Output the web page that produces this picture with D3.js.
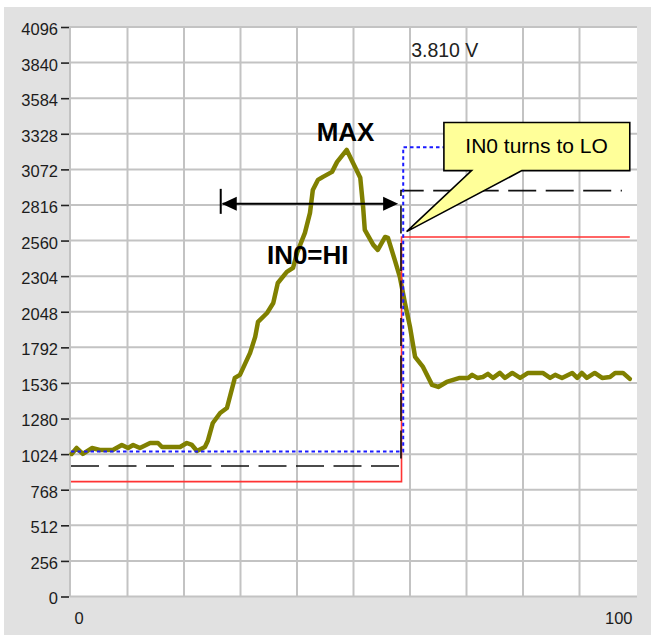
<!DOCTYPE html>
<html><head><meta charset="utf-8">
<script src="https://cdn.jsdelivr.net/npm/d3@7"></script>
<style>
html,body{margin:0;padding:0;background:#fff;}
svg{display:block;font-family:"Liberation Sans",Arial,sans-serif;}
</style></head>
<body><svg id="c" width="651" height="635"></svg>
<script>
// ---- data ----
const yTicks = [0,256,512,768,1024,1280,1536,1792,2048,2304,2560,2816,3072,3328,3584,3840,4096];
const xTicks = [0,100];
const xGrid = [10,20,30,40,50,60,70,80,90];

const signalX = [0.1,1.0,2.1,3.7,5.1,7.4,9.0,10.1,11.0,12.2,14.0,15.4,16.1,19.3,20.5,21.4,22.3,23.7,24.2,25.1,26.4,27.6,29.0,29.9,31.7,32.6,33.1,34.7,35.8,36.6,38.2,39.3,40.0,41.4,42.3,42.8,43.7,44.6,46.2,47.1,48.8,49.9,51.2,51.7,52.0,53.5,54.3,55.6,56.1,57.3,58.2,59.1,60.0,60.9,62.3,63.9,65.0,66.5,68.8,70.3,71.0,71.9,72.9,73.8,74.7,75.9,76.8,78.1,79.5,80.9,83.5,84.8,85.7,86.9,88.7,89.6,90.4,91.3,92.7,94.0,95.4,96.3,97.7,98.9];
const signalV = [1025,1068,1025,1068,1054,1054,1090,1068,1090,1068,1104,1104,1075,1075,1104,1090,1047,1075,1118,1248,1320,1356,1572,1594,1752,1867,1975,2039,2111,2255,2335,2363,2471,2615,2759,2924,2996,3018,3054,3126,3212,3119,3011,2802,2637,2529,2493,2586,2579,2421,2299,2112,1939,1723,1651,1522,1507,1543,1572,1572,1594,1572,1579,1601,1572,1608,1572,1608,1572,1608,1608,1572,1594,1572,1608,1572,1608,1572,1608,1572,1579,1608,1608,1565];

const redX = [0,58.5,58.5,98.9];
const redV = [826,826,2586,2586];
const blackX = [0,58.4,58.4,97.5];
const blackV = [939,939,2919,2919];
const blueX = [0,58.8,58.8,98.9];
const blueV = [1042,1042,3232,3232];

const valueLabel = "3.810 V";
const maxLabel = "MAX";
const hiLabel = "IN0=HI";
const calloutLabel = "IN0 turns to LO";

// ---- layout ----
const svg = d3.select("#c");
const x = d3.scaleLinear([0,100],[71,636]);
const y = d3.scaleLinear([0,4096],[596.5,27]);

svg.append("rect").attr("x",4).attr("y",7).attr("width",647).attr("height",628).attr("fill","#e1e1e1");
svg.append("rect").attr("x",70).attr("y",26).attr("width",567).attr("height",571).attr("fill","#fff");

const grid = svg.append("g").attr("stroke","#c3c3c3").attr("stroke-width",2);
grid.selectAll("line.h").data(yTicks).join("line").attr("class","h")
  .attr("x1",70).attr("x2",637).attr("y1",d=>y(d)).attr("y2",d=>y(d));
grid.selectAll("line.v").data(xGrid).join("line").attr("class","v")
  .attr("x1",d=>x(d)).attr("x2",d=>x(d)).attr("y1",26).attr("y2",597);
grid.append("line").attr("x1",70).attr("x2",70).attr("y1",26).attr("y2",597);

// y axis
const ya = svg.append("g").attr("transform","translate(69,0)")
  .call(d3.axisLeft(y).tickValues(yTicks).tickSize(8).tickPadding(3).tickFormat(d3.format("d")));
ya.select(".domain").remove();
ya.selectAll(".tick line").attr("stroke","#222").attr("stroke-width",1.6);
ya.selectAll(".tick text").attr("font-size",16.5).attr("fill","#1c1c1c")
  .attr("font-family","'Liberation Sans',Arial,sans-serif").attr("dy","0.45em");

// x axis
const xa = svg.append("g").attr("transform","translate(0,597)")
  .call(d3.axisBottom(x).tickValues(xTicks).tickSize(0).tickPadding(15).tickFormat(d3.format("d")));
xa.select(".domain").remove();
xa.selectAll(".tick text").attr("font-size",16.5).attr("fill","#1c1c1c")
  .attr("font-family","'Liberation Sans',Arial,sans-serif")
  .attr("text-anchor",(d,i)=> i===0 ? "start" : "end")
  .attr("dx",(d,i)=> i===0 ? 3 : -4);

// signal curve
const line = d3.line().x(d=>x(d[0])).y(d=>y(d[1]));
svg.append("path").datum(signalX.map((v,i)=>[v,signalV[i]]))
  .attr("d",line).attr("fill","none").attr("stroke","#808000").attr("stroke-width",4.5)
  .attr("stroke-linejoin","round").attr("stroke-linecap","round");

// thresholds
svg.append("path").datum(redX.map((v,i)=>[v,redV[i]]))
  .attr("d",line).attr("fill","none").attr("stroke","#ff3333").attr("stroke-width",1.6);
svg.append("path").datum(blackX.map((v,i)=>[v,blackV[i]]))
  .attr("d",line).attr("fill","none").attr("stroke","#111").attr("stroke-width",1.6)
  .attr("stroke-dasharray","28,9.5");
svg.append("path").datum(blueX.map((v,i)=>[v,blueV[i]]))
  .attr("d",line).attr("fill","none").attr("stroke","#1a1aff").attr("stroke-width",2)
  .attr("stroke-dasharray","3.5,3");

// value readout
svg.append("text").attr("x",x(60.2)).attr("y",y(3883)).attr("font-size",19.5).attr("fill","#222").text(valueLabel);

// double arrow
const ax1 = x(26.5), ax2 = x(57.9), ay = y(2824);
svg.append("line").attr("x1",ax1+2).attr("x2",ax2-4).attr("y1",ay).attr("y2",ay).attr("stroke","#000").attr("stroke-width",2);
svg.append("line").attr("x1",ax1).attr("x2",ax1).attr("y1",ay-15).attr("y2",ay+10).attr("stroke","#000").attr("stroke-width",2);
svg.append("path").attr("d",`M${ax1+1},${ay} L${ax1+16},${ay-7} L${ax1+16},${ay+7} Z`).attr("fill","#000");
svg.append("path").attr("d",`M${ax2},${ay} L${ax2-15},${ay-7} L${ax2-15},${ay+7} Z`).attr("fill","#000");

// labels
svg.append("text").attr("x",x(48.6)).attr("y",y(3277)).attr("text-anchor","middle")
  .attr("font-size",26).attr("font-weight","bold").attr("fill","#000").text(maxLabel);
svg.append("text").attr("x",x(41.9)).attr("y",y(2390)).attr("text-anchor","middle")
  .attr("font-size",26).attr("font-weight","bold").attr("fill","#000").text(hiLabel);

// callout
const bx1 = x(66.0), bx2 = x(98.9), by1 = y(3409), by2 = y(3063);
const px1 = x(70.9), px2 = x(79.8), tipX = x(59.4), tipY = y(2624);
svg.append("path")
  .attr("d",`M${bx1},${by1} L${bx2},${by1} L${bx2},${by2} L${px2},${by2} L${tipX},${tipY} L${px1},${by2} L${bx1},${by2} Z`)
  .attr("fill","#ffff99").attr("stroke","#000").attr("stroke-width",1.6).attr("stroke-linejoin","miter");
svg.append("text").attr("x",x(82.4)).attr("y",y(3191)).attr("text-anchor","middle")
  .attr("font-size",21).attr("fill","#000").text(calloutLabel);
</script>
</body></html>
